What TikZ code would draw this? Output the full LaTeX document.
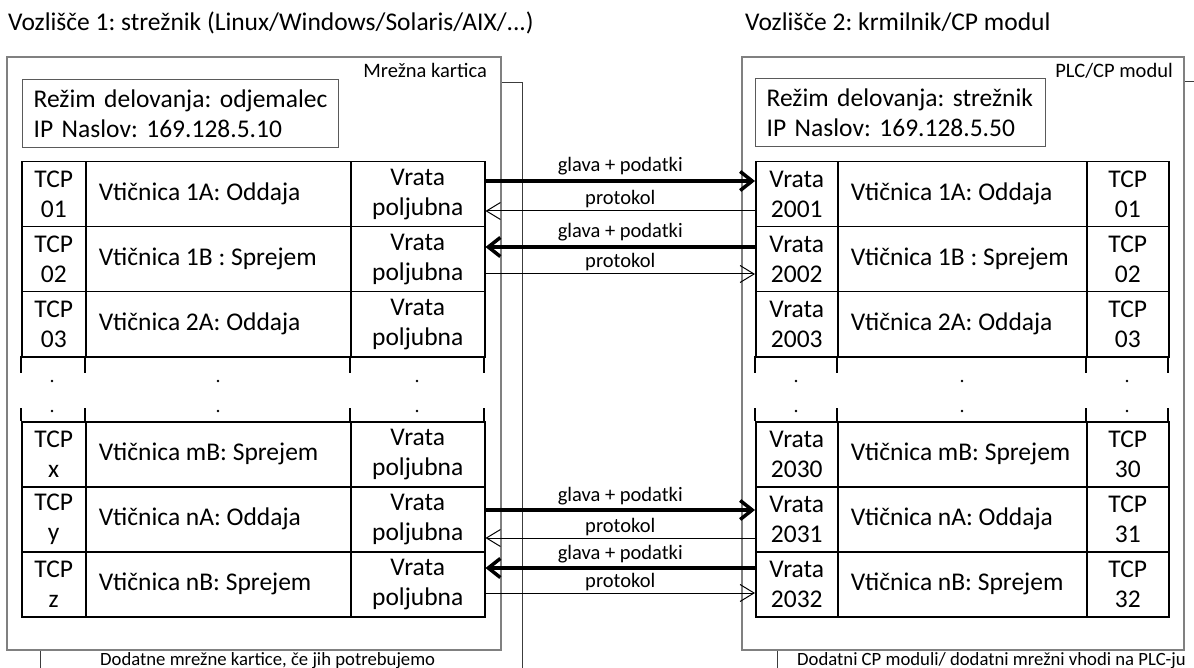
\documentclass[tikz,border=0pt]{standalone}
\usepackage{fontspec}
\setmainfont{Carlito}
\usetikzlibrary{arrows.meta}
\frenchspacing

\definecolor{framegray}{RGB}{128,128,128}
\definecolor{backgray}{RGB}{60,60,60}
\definecolor{infogray}{RGB}{90,90,90}

\newcommand\bigtxt{\fontsize{25.5}{30}\selectfont}
\newcommand\smalltxt{\fontsize{20.5}{24}\selectfont}
\newcommand\notetxt{\fontsize{18.7}{22}\selectfont}

\tikzset{
  outerbox/.style={draw=framegray, line width=1.4pt, fill=white},
  backbox/.style={draw=backgray, line width=1pt},
  infobox/.style={draw=infogray, line width=1.2pt, anchor=north west, inner xsep=11pt,
    inner ysep=0pt, align=left, font=\bigtxt},
  cell/.style={draw=black, line width=1.5pt, anchor=north west, minimum height=65pt,
    inner sep=0pt, align=center, font=\bigtxt},
  sockcell/.style={cell, inner xsep=13pt},
  stub/.style={draw=black, line width=1.5pt},
  heavyarrow/.style={line width=3.5pt, -{Straight Barb[length=12pt, width=19pt]}},
  lightarrow/.style={line width=1pt, -{Straight Barb[length=14pt, width=17pt]}},
  flowlabel/.style={midway, anchor=base, font=\smalltxt, inner sep=0pt},
  caption/.style={font=\smalltxt, inner sep=0pt},
  note/.style={font=\notetxt, inner sep=0pt, anchor=base west},
  heading/.style={font=\bigtxt, inner sep=0pt, anchor=base west},
}

% one row of the client side table: name, top, TCP cell, socket cell
\newcommand\clientrow[4]{%
  \node[cell, minimum width=64pt] (#1a) at (21,#2) {#3};
  \node[sockcell, minimum width=265pt] (#1b) at (85,#2) {\hbox to 239pt{#4\hss}};
  \node[cell, minimum width=134pt] (#1c) at (350,#2) {Vrata\\poljubna};}

% one row of the PLC side table: name, top, port cell, socket cell, TCP cell
\newcommand\plcrow[5]{%
  \node[cell, minimum width=82pt] (#1a) at (755,#2) {#3};
  \node[sockcell, minimum width=249pt] (#1b) at (837,#2) {\hbox to 223pt{#4\hss}};
  \node[cell, minimum width=82pt] (#1c) at (1086,#2) {#5};}

\begin{document}
\begin{tikzpicture}[x=1pt, y=-1pt]
\useasboundingbox[fill=white] (0,0) rectangle (1194,668);

% additional cards / modules behind the main frames
\begin{scope}
  \clip (0,0) rectangle (1194,668);
  \draw[backbox] (40,83) rectangle (522,700);
  \draw[backbox] (777,82) rectangle (1230,700);
\end{scope}

% main frames
\draw[outerbox] (7,57) rectangle (501,650);
\draw[outerbox] (742,57) rectangle (1184,650);

% headings and frame labels
\node[heading] (head1) at (8,31) {Vozlišče 1: strežnik (Linux/Windows/Solaris/AIX/...)};
\node[heading] (head2) at (745,31) {Vozlišče 2: krmilnik/CP modul};
\node[caption, anchor=base east] (card) at (487,78) {Mrežna kartica};
\node[caption, anchor=base east] (module) at (1173,78) {PLC/CP modul};
\node[note] (morecards) at (100,665) {Dodatne mrežne kartice, če jih potrebujemo};
\node[note] (moremodules) at (797,665) {Dodatni CP moduli/ dodatni mrežni vhodi na PLC-ju};

% operating mode boxes
\node[infobox, minimum width=316pt, text width=294pt, minimum height=68pt] (cinfo) at (22,79)
  {\mbox{Režim delovanja: odjemalec}\\\mbox{IP Naslov: 169.128.5.10}};
\node[infobox, minimum width=290pt, text width=268pt, minimum height=68pt] (pinfo) at (755,78)
  {\mbox{Režim delovanja: strežnik}\\\mbox{IP Naslov: 169.128.5.50}};

% client side sockets
\clientrow{L1}{161}{TCP\\01}{Vtičnica 1A: Oddaja}
\clientrow{L2}{226}{TCP\\02}{Vtičnica 1B : Sprejem}
\clientrow{L3}{291}{TCP\\03}{Vtičnica 2A: Oddaja}
\clientrow{L4}{421}{TCP\\x}{Vtičnica mB: Sprejem}
\clientrow{L5}{486}{TCP\\y}{Vtičnica nA: Oddaja}
\clientrow{L6}{551}{TCP\\z}{Vtičnica nB: Sprejem}

% PLC side sockets
\plcrow{R1}{161}{Vrata\\2001}{Vtičnica 1A: Oddaja}{TCP\\01}
\plcrow{R2}{226}{Vrata\\2002}{Vtičnica 1B : Sprejem}{TCP\\02}
\plcrow{R3}{291}{Vrata\\2003}{Vtičnica 2A: Oddaja}{TCP\\03}
\plcrow{R4}{421}{Vrata\\2030}{Vtičnica mB: Sprejem}{TCP\\30}
\plcrow{R5}{486}{Vrata\\2031}{Vtičnica nA: Oddaja}{TCP\\31}
\plcrow{R6}{551}{Vrata\\2032}{Vtičnica nB: Sprejem}{TCP\\32}

% broken table walls and dots for the omitted rows
\foreach \x in {21,85,350,484,755,837,1086,1168} {
  \draw[stub] (\x,356) -- (\x,373);
  \draw[stub] (\x,408) -- (\x,421);
}
\foreach \x in {52,218,417,796,962,1127} {
  \fill (\x,381) circle (1.3pt);
  \fill (\x,411) circle (1.3pt);
}

% data and protocol flows
\draw[heavyarrow] ([yshift=-20pt]L1c.north east) -- ([yshift=-20pt]R1a.north west)
  node[flowlabel, yshift=9pt] {glava + podatki};
\draw[lightarrow] ([yshift=-50pt]R1a.north west) -- ([yshift=-50pt]L1c.north east)
  node[flowlabel, yshift=6pt] {protokol};
\draw[heavyarrow] ([yshift=-21pt]R2a.north west) -- ([yshift=-21pt]L2c.north east)
  node[flowlabel, yshift=9pt] {glava + podatki};
\draw[lightarrow] ([yshift=-48pt]L2c.north east) -- ([yshift=-48pt]R2a.north west)
  node[flowlabel, yshift=6pt] {protokol};

\draw[heavyarrow] ([yshift=-24pt]L5c.north east) -- ([yshift=-24pt]R5a.north west)
  node[flowlabel, yshift=9pt] {glava + podatki};
\draw[lightarrow] ([yshift=-52pt]R5a.north west) -- ([yshift=-52pt]L5c.north east)
  node[flowlabel, yshift=6pt] {protokol};
\draw[heavyarrow] ([yshift=-17pt]R6a.north west) -- ([yshift=-17pt]L6c.north east)
  node[flowlabel, yshift=9pt] {glava + podatki};
\draw[lightarrow] ([yshift=-42pt]L6c.north east) -- ([yshift=-42pt]R6a.north west)
  node[flowlabel, yshift=6pt] {protokol};
\end{tikzpicture}
\end{document}
